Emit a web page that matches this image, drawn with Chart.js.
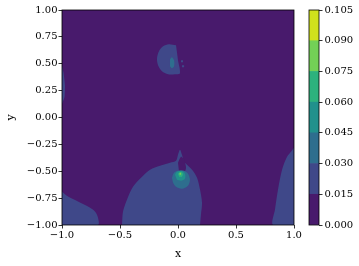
<!DOCTYPE html>
<html>
<head>
<meta charset="utf-8">
<script src="https://cdn.jsdelivr.net/npm/chart.js@4.4.1/dist/chart.umd.min.js"></script>
<style>
  html, body { margin: 0; padding: 0; background: #fff; }
  #wrap { position: relative; width: 359px; height: 266px; }
  #plot { position: absolute; left: 0; top: 0; }
  #cbar { position: absolute; left: 300px; top: 0; }
</style>
</head>
<body>
<div id="wrap">
  <canvas id="plot" width="320" height="266"></canvas>
  <canvas id="cbar" width="59" height="266"></canvas>
</div>
<script>
// contour levels, one colour per band (viridis)
const levels = [0, 0.015, 0.03, 0.045, 0.06, 0.075, 0.09, 0.105];
const bandColors = ['#481a6c', '#3f4889', '#2e6e8e', '#21918c', '#2db27d', '#73d056', '#d0e11c'];
const xTicks = [-1, -0.5, 0, 0.5, 1];
const yTicks = [-1, -0.75, -0.5, -0.25, 0, 0.25, 0.5, 0.75, 1];

// region outlines [x, y]
const background = [[-1, -1], [1, -1], [1, 1], [-1, 1]];
const leftEdge = [[-1, 0.48], [-0.987, 0.42], [-0.974, 0.30], [-0.978, 0.19], [-1, 0.125]];
const bottomLeft = [[-1, -0.69], [-0.948, -0.736], [-0.862, -0.782], [-0.776, -0.829], [-0.716, -0.875], [-0.69, -0.931], [-0.69, -1], [-1, -1]];
const bottomMid = [[-0.483, -1], [-0.474, -0.875], [-0.44, -0.764], [-0.388, -0.644], [-0.31, -0.551], [-0.241, -0.486],
  [-0.155, -0.449], [-0.069, -0.421], [-0.017, -0.403], [0.0, -0.347], [0.017, -0.301], [0.034, -0.347], [0.052, -0.412],
  [0.06, -0.421], [0.121, -0.486], [0.164, -0.56], [0.19, -0.671], [0.207, -0.792], [0.198, -0.903], [0.19, -1]];
const rightEdge = [[1, -0.282], [0.974, -0.319], [0.94, -0.366], [0.897, -0.486], [0.862, -0.671], [0.836, -0.856], [0.819, -1], [1, -1]];
const topBlob = [[-0.017, 0.671], [-0.078, 0.681], [-0.129, 0.662], [-0.164, 0.616], [-0.181, 0.551], [-0.172, 0.486],
  [-0.138, 0.431], [-0.086, 0.403], [-0.026, 0.403], [0.017, 0.412], [0.0, 0.532]];
const topDot1 = [[0.026, 0.532], [0.043, 0.532], [0.043, 0.514], [0.026, 0.514]];
const topDot2 = [[0.034, 0.486], [0.052, 0.486], [0.052, 0.468], [0.034, 0.468]];
const topCore = [[-0.069, 0.542], [-0.052, 0.56], [-0.034, 0.532], [-0.034, 0.477], [-0.052, 0.458], [-0.069, 0.477]];
const spikeHole = [[0.0, -0.421], [0.026, -0.366], [0.052, -0.394], [0.069, -0.468], [0.052, -0.514], [0.009, -0.505]];
const core3 = [[-0.052, -0.56], [-0.034, -0.514], [0, -0.495], [0.052, -0.495], [0.086, -0.523], [0.103, -0.579],
  [0.086, -0.634], [0.034, -0.662], [-0.017, -0.644], [-0.043, -0.606]];
const core4 = [[-0.026, -0.532], [-0.009, -0.505], [0.034, -0.495], [0.06, -0.523], [0.06, -0.569], [0.026, -0.588], [-0.009, -0.579]];
const core5 = [[0, -0.523], [0.026, -0.505], [0.043, -0.523], [0.034, -0.551], [0.009, -0.551]];
const core6 = [[0.013, -0.514], [0.026, -0.514], [0.026, -0.532], [0.013, -0.532]];

// drawing order, bottom first: [outline, band index]
const layers = [
  [background, 0], [leftEdge, 1], [bottomLeft, 1], [bottomMid, 1], [rightEdge, 1],
  [topBlob, 1], [topDot1, 1], [topDot2, 1], [topCore, 2],
  [spikeHole, 0], [core3, 2], [core4, 3], [core5, 4], [core6, 5]
];

Chart.defaults.font.family = 'DejaVu Serif';
Chart.defaults.font.size = 10;
Chart.defaults.color = '#000';

const fmt = (v, d) => v.toFixed(d).replace('-', '\u2212');

const frame = {
  id: 'frame',
  afterDatasetsDraw(chart) {
    const { ctx, chartArea: a } = chart;
    ctx.save();
    ctx.strokeStyle = '#000';
    ctx.lineWidth = 0.8;
    ctx.strokeRect(a.left, a.top, a.right - a.left, a.bottom - a.top);
    ctx.restore();
  }
};

const tickGrid = { display: true, drawOnChartArea: false, drawTicks: true, tickLength: 3.5, color: '#000', lineWidth: 0.8 };

new Chart(document.getElementById('plot'), {
  type: 'line',
  data: {
    datasets: layers.map(([pts, band], i) => ({
      data: pts.map(([x, y]) => ({ x, y })),
      backgroundColor: bandColors[band],
      borderColor: bandColors[band],
      borderWidth: 0,
      pointRadius: 0,
      fill: 'shape',
      tension: pts.length > 5 ? 0.3 : 0.15,
      order: layers.length - i
    }))
  },
  options: {
    responsive: false,
    animation: false,
    layout: { padding: { left: 0, top: 10, right: 26, bottom: 0 } },
    plugins: { legend: { display: false }, tooltip: { enabled: false } },
    scales: {
      x: {
        type: 'linear', min: -1, max: 1,
        afterBuildTicks: s => { s.ticks = xTicks.map(v => ({ value: v })); },
        afterFit: s => { s.height = 41; },
        ticks: { padding: 1, callback: v => fmt(v, 1) },
        grid: tickGrid,
        border: { display: false },
        title: { display: true, text: 'x', font: { size: 11 }, padding: { top: 0, bottom: 5 } }
      },
      y: {
        type: 'linear', min: -1, max: 1,
        afterBuildTicks: s => { s.ticks = yTicks.map(v => ({ value: v })); },
        afterFit: s => { s.width = 62; },
        ticks: { padding: 1, callback: v => fmt(v, 2) },
        grid: tickGrid,
        border: { display: false },
        title: { display: true, text: 'y', font: { size: 11 }, padding: { top: 5, bottom: 5 } }
      }
    }
  },
  plugins: [frame]
});

// colour bar: one stacked bar per band
new Chart(document.getElementById('cbar'), {
  type: 'bar',
  data: {
    labels: [''],
    datasets: bandColors.map((c, i) => ({
      data: [levels[i + 1] - levels[i]],
      backgroundColor: c,
      borderWidth: 0,
      barPercentage: 1,
      categoryPercentage: 1
    }))
  },
  options: {
    responsive: false,
    animation: false,
    layout: { padding: { left: 9, top: 10, right: 0, bottom: 41 } },
    plugins: { legend: { display: false }, tooltip: { enabled: false } },
    scales: {
      x: { display: false, stacked: true },
      y: {
        stacked: true, position: 'right', min: 0, max: levels[levels.length - 1],
        afterBuildTicks: s => { s.ticks = levels.map(v => ({ value: v })); },
        afterFit: s => { s.width = 40; },
        ticks: { padding: 2, callback: v => fmt(v, 3) },
        grid: tickGrid,
        border: { display: false }
      }
    }
  },
  plugins: [frame]
});
</script>
</body>
</html>
